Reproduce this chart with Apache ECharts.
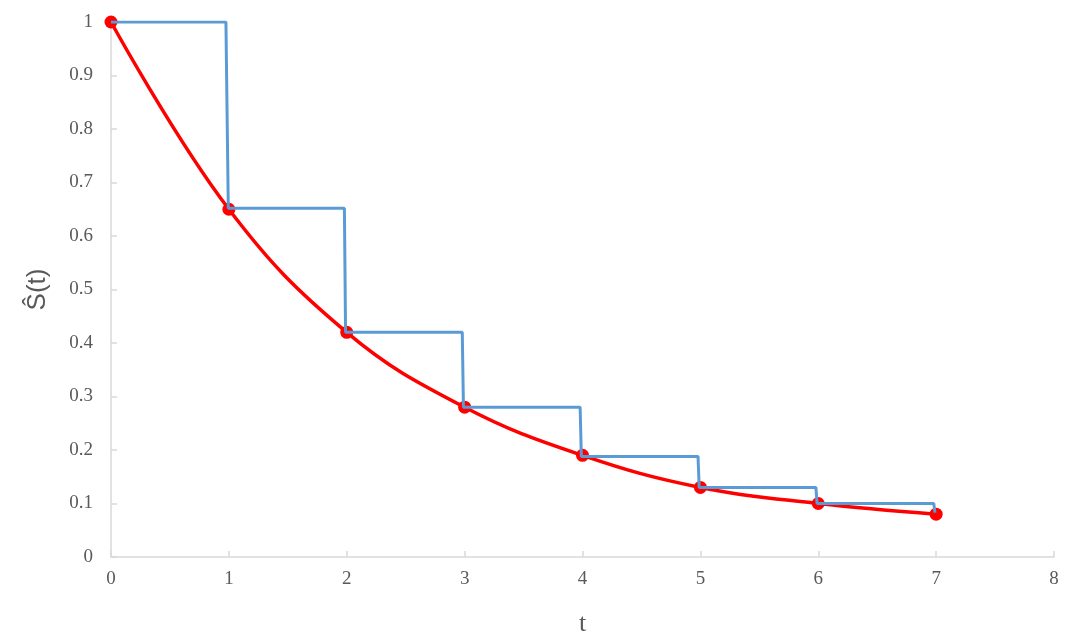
<!DOCTYPE html>
<html><head><meta charset="utf-8">
<script src="https://cdn.jsdelivr.net/npm/echarts@6/dist/echarts.min.js"></script>
<style>html,body{margin:0;padding:0;background:#fff}#c{width:1080px;height:644px}</style>
</head><body><div id="c"></div>
<script>
const times = [0, 1, 2, 3, 4, 5, 6, 7];
const survival = [1, 0.65, 0.42, 0.28, 0.19, 0.13, 0.10, 0.08];
const stepX = [0, 0.975, 0.995, 1.98, 1.99, 2.98, 2.99, 3.98, 3.99, 4.98, 4.99, 5.98, 5.99, 6.98, 6.99];
const stepY = [1, 1, 0.652, 0.652, 0.42, 0.42, 0.28, 0.28, 0.188, 0.188, 0.13, 0.13, 0.10, 0.10, 0.083];
const xTicks = [0, 1, 2, 3, 4, 5, 6, 7, 8];

const chart = echarts.init(document.getElementById('c'));
const lab = {fontFamily: 'Liberation Serif', fontSize: 19, color: '#595959'};
chart.setOption({
  animation: false,
  grid: {left: 111, right: 26, top: 22, bottom: 87},
  xAxis: {
    type: 'value', min: xTicks[0], max: xTicks[xTicks.length - 1], interval: 1,
    name: 't', nameLocation: 'middle', nameGap: 54,
    nameTextStyle: {fontFamily: 'Liberation Serif', fontSize: 26, color: '#595959'},
    axisLine: {lineStyle: {color: '#d9d9d9', width: 1.5}},
    axisTick: {inside: true, length: 6, lineStyle: {color: '#d9d9d9', width: 1.5}},
    axisLabel: Object.assign({margin: 13}, lab),
    splitLine: {show: false}
  },
  yAxis: {
    type: 'value', min: 0, max: 1, interval: 0.1,
    name: 'Ŝ(t)', nameLocation: 'middle', nameGap: 60, nameRotate: 90,
    nameTextStyle: {fontFamily: 'Liberation Sans', fontSize: 26, color: '#595959'},
    axisLine: {show: true, lineStyle: {color: '#d9d9d9', width: 1.5}},
    axisTick: {show: true, inside: true, length: 6, lineStyle: {color: '#d9d9d9', width: 1.5}},
    axisLabel: Object.assign({margin: 18}, lab),
    splitLine: {show: false}
  },
  series: [
    {
      type: 'line', data: times.map((t, i) => [t, survival[i]]),
      smooth: 0.4, symbol: 'circle', symbolSize: 13,
      lineStyle: {color: '#ff0000', width: 3.5},
      itemStyle: {color: '#ff0000'}, z: 2
    },
    {
      type: 'line', data: stepX.map((t, i) => [t, stepY[i]]),
      symbol: 'none',
      lineStyle: {color: '#5b9bd5', width: 3},
      z: 3
    }
  ]
});
</script></body></html>
